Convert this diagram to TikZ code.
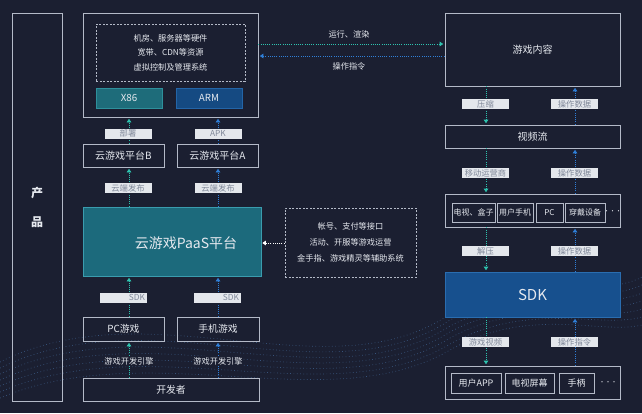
\documentclass[tikz,border=0pt]{standalone}
\usepackage{fontspec}
\setmainfont{Noto Sans CJK SC}
\usetikzlibrary{arrows.meta}
\definecolor{bgc}{HTML}{1B1F31}
\definecolor{boxc}{HTML}{B4BAC8}
\definecolor{lblfill}{HTML}{E4E7EC}
\definecolor{lbltext}{HTML}{808899}
\definecolor{tealc}{HTML}{2EC4B0}
\definecolor{bluec}{HTML}{2F7FD8}
\definecolor{paasfill}{HTML}{1C6A7C}
\definecolor{paasdraw}{HTML}{3A9CAE}
\definecolor{x86fill}{HTML}{1E6C7A}
\definecolor{x86draw}{HTML}{2E909C}
\definecolor{armfill}{HTML}{154A82}
\definecolor{armdraw}{HTML}{2365A8}
\definecolor{sdkfill}{HTML}{17508E}
\definecolor{sdkdraw}{HTML}{2A6DB0}
\definecolor{txtc}{HTML}{E6E9EF}
\definecolor{dotc}{HTML}{4F7FB8}
\tikzset{
  box/.style={draw=boxc, line width=0.7pt, inner sep=0pt, text=txtc, font=\fontsize{9.8}{11}\selectfont},
  dbox/.style={draw=boxc, line width=0.7pt, dash pattern=on 2pt off 1.5pt, inner sep=0pt, text=txtc, font=\fontsize{8.2}{14.5}\selectfont, align=center},
  lbl/.style={fill=lblfill, text=lbltext, inner sep=0pt, minimum width=47pt, minimum height=10pt, font=\fontsize{8.3}{9}\selectfont},
  small/.style={text=txtc, inner sep=0pt, font=\fontsize{8.2}{9}\selectfont},
  ell/.style={text=txtc, inner sep=0pt, font=\fontsize{6}{7}\selectfont},
  tarr/.style={draw=tealc!80!white, dash pattern=on 1pt off 1.2pt, line width=0.7pt, -{Triangle[width=4.5pt,length=3.5pt]}, tealc, shorten >=1.5pt},
  barr/.style={draw=bluec!85!white, dash pattern=on 1pt off 1.2pt, line width=0.7pt, -{Triangle[width=4.5pt,length=3.5pt]}, bluec, shorten >=1.5pt},
  warr/.style={draw=boxc, dash pattern=on 1pt off 1.2pt, line width=0.7pt, -{Triangle[width=4.5pt,length=3.5pt]}, white, shorten >=1pt},
}
\begin{document}
\begin{tikzpicture}[x=1pt,y=-1pt]
\fill[bgc] (0,0) rectangle (642,413);
\useasboundingbox (0,0) rectangle (642,413);
% decorative particle waves
\foreach \k in {0,...,6}{
  \draw[draw=dotc, opacity=0.55, line width=0.7pt, dash pattern=on 0.7pt off 2.6pt]
    (0,398-\k*6) .. controls (150,335-\k*8) and (330,420-\k*4) .. (450,350-\k*6)
    .. controls (530,305-\k*5) and (600,335-\k*6) .. (642,325-\k*8);
}
% ---------- left column
\node[box, minimum width=50pt, minimum height=388pt, font=\bfseries\fontsize{12}{29}\selectfont, align=center] (prod) at (37,207) {产\\品};
\node[box, minimum width=175pt, minimum height=104pt] (srv) at (170.5,65) {};
\node[dbox, minimum width=149pt, minimum height=57pt] (hw) at (170.5,52.5) {机房、服务器等硬件\\宽带、CDN等资源\\虚拟控制及管理系统};
\node[box, fill=x86fill, draw=x86draw, minimum width=66pt, minimum height=20pt] (x86) at (129,98) {X86};
\node[box, fill=armfill, draw=armdraw, minimum width=66pt, minimum height=20pt] (arm) at (209,98) {ARM};
\node[box, minimum width=81pt, minimum height=23pt, font=\fontsize{10}{12}\selectfont] (platB) at (123.5,155.5) {云游戏平台B};
\node[box, minimum width=81pt, minimum height=23pt, font=\fontsize{10}{12}\selectfont] (platA) at (217.5,155.5) {云游戏平台A};
\node[box, fill=paasfill, draw=paasdraw, minimum width=178pt, minimum height=69pt] (paas) at (172,241.5) {};
\node[text=txtc, inner sep=0pt, font=\fontsize{14}{16}\selectfont] (paast) at (186,243) {云游戏PaaS平台};
\node[box, minimum width=81pt, minimum height=24pt] (pcg) at (123.5,329) {PC游戏};
\node[box, minimum width=82pt, minimum height=24pt] (mobg) at (218,329) {手机游戏};
\node[box, minimum width=176pt, minimum height=23pt] (dev) at (171,389.5) {开发者};
% arrows left column
\draw[tarr] (platB.north -| 129,0) -- (srv.south -| 129,0);
\draw[barr] (platA.north -| 218,0) -- (srv.south -| 218,0);
\draw[tarr] (paas.north -| 129,0) -- (platB.south -| 129,0);
\draw[barr] (paas.north -| 218,0) -- (platA.south -| 218,0);
\draw[tarr] (pcg.north -| 129,0) -- (paas.south -| 129,0);
\draw[barr] (mobg.north -| 218,0) -- (paas.south -| 218,0);
\draw[tarr] (dev.north -| 129,0) -- (pcg.south -| 129,0);
\draw[barr] (dev.north -| 218,0) -- (mobg.south -| 218,0);
\node[lbl] (l1) at (128,133.5) {部署};
\node[lbl] (l2) at (218,133.5) {APK};
\node[lbl] (l3) at (128,188) {云端发布};
\node[lbl] (l4) at (218,188) {云端发布};
\node[lbl, text width=43pt, align=right] (l5) at (123.5,297.5) {SDK};
\node[lbl, text width=43pt, align=right] (l6) at (217.5,297.5) {SDK};
\node[small, fill=bgc, inner ysep=1pt] (e1) at (129,361) {游戏开发引擎};
\node[small, fill=bgc, inner ysep=1pt] (e2) at (218,361) {游戏开发引擎};
% ---------- right column
\node[box, minimum width=175pt, minimum height=73pt, font=\fontsize{10}{12}\selectfont] (cont) at (532.5,49.5) {游戏内容};
\node[box, minimum width=175pt, minimum height=23pt, font=\fontsize{10}{12}\selectfont] (video) at (532.5,136.5) {视频流};
\node[box, minimum width=175pt, minimum height=33pt] (devs) at (532.5,210.5) {};
\node[box, minimum width=43pt, minimum height=19pt, font=\fontsize{8}{9}\selectfont] (tv) at (473.5,212.5) {电视、盒子};
\node[box, minimum width=36pt, minimum height=19pt, font=\fontsize{8}{9}\selectfont] (phone) at (515,212.5) {用户手机};
\node[box, minimum width=27pt, minimum height=19pt, font=\fontsize{8}{9}\selectfont] (pc) at (549.5,212.5) {PC};
\node[box, minimum width=40pt, minimum height=19pt, font=\fontsize{8}{9}\selectfont] (wear) at (585,212.5) {穿戴设备};
\node[ell] (dots1) at (612.5,212) {···};
\node[box, fill=sdkfill, draw=sdkdraw, minimum width=175pt, minimum height=45pt, font=\fontsize{15}{17}\selectfont] (sdk) at (532.5,294.5) {SDK};
\node[box, minimum width=175pt, minimum height=33pt] (ends) at (532.5,382.5) {};
\node[box, minimum width=50pt, minimum height=20pt, font=\fontsize{9}{10}\selectfont] (app) at (476,383) {用户APP};
\node[box, minimum width=49pt, minimum height=20pt, font=\fontsize{9}{10}\selectfont] (tvs) at (529.5,383) {电视屏幕};
\node[box, minimum width=35pt, minimum height=20pt, font=\fontsize{9}{10}\selectfont] (pad) at (576.5,383) {手柄};
\node[ell] (dots2) at (608,383.5) {···};
% arrows right column
\draw[tarr] (cont.south -| 486,0) -- (video.north -| 486,0);
\draw[barr] (video.north -| 575,0) -- (cont.south -| 575,0);
\draw[tarr] (video.south -| 486,0) -- (devs.north -| 486,0);
\draw[barr] (devs.north -| 575,0) -- (video.south -| 575,0);
\draw[tarr] (devs.south -| 486,0) -- (sdk.north -| 486,0);
\draw[barr] (sdk.north -| 575,0) -- (devs.south -| 575,0);
\draw[tarr] (sdk.south -| 486,0) -- (ends.north -| 486,0);
\draw[barr] (ends.north -| 575,0) -- (sdk.south -| 575,0);
\node[lbl] (r1) at (485.5,104) {压缩};
\node[lbl] (r2) at (574.5,104) {操作数据};
\node[lbl] (r3) at (485.5,173) {移动运营商};
\node[lbl] (r4) at (574.5,173) {操作数据};
\node[lbl] (r5) at (485.5,251) {解压};
\node[lbl] (r6) at (574.5,251) {操作数据};
\node[lbl] (r7) at (485.5,342) {游戏视频};
\node[lbl] (r8) at (574.5,342) {操作指令};
% ---------- middle
\draw[tarr] (srv.east |- 0,44) -- (cont.west |- 0,44);
\draw[barr] (cont.west |- 0,56) -- (srv.east |- 0,56);
\node[small] (run) at (349,34) {运行、渲染};
\node[small] (cmd) at (349,66) {操作指令};
\node[dbox, minimum width=131pt, minimum height=69pt, font=\fontsize{8.2}{16}\selectfont] (ops) at (350.5,242.5) {帐号、支付等接口\\活动、开服等游戏运营\\金手指、游戏精灵等辅助系统};
\draw[warr] (ops.west |- 0,243) -- (paas.east |- 0,243);
\end{tikzpicture}
\end{document}
